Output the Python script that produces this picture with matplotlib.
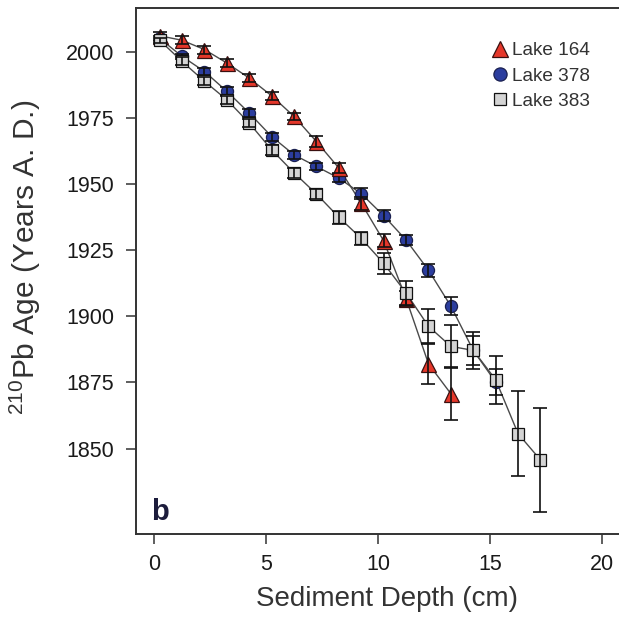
import matplotlib
matplotlib.use("Agg")
import matplotlib.pyplot as plt
from matplotlib.lines import Line2D

plt.rcParams['font.family'] = ['Liberation Sans', 'DejaVu Sans']
plt.rcParams['mathtext.fontset'] = 'custom'
plt.rcParams['mathtext.rm'] = 'Liberation Sans'

# ---- data ----
depth_164 = [0.25, 1.25, 2.25, 3.25, 4.25, 5.25, 6.25, 7.25, 8.25, 9.25, 10.25, 11.25, 12.25, 13.25]
age_164 = [2006, 2004.3, 2000.8, 1995.7, 1990, 1983.3, 1975.5, 1966, 1956, 1942.7, 1928.5, 1906.7, 1882, 1870.7]
err_164 = [1.5, 1.5, 1.5, 1.5, 1.5, 1.5, 1.5, 2, 2, 2.5, 2.5, 3, 7.5, 10]

depth_378 = [0.25, 1.25, 2.25, 3.25, 4.25, 5.25, 6.25, 7.25, 8.25, 9.25, 10.25, 11.25, 12.25, 13.25, 14.25, 15.25]
age_378 = [2005, 1998.2, 1992.5, 1985, 1976.8, 1967.9, 1961, 1956.6, 1952.2, 1946.3, 1938, 1928.8, 1917.4, 1903.8, 1887.1, 1875.1]
err_378 = [1, 1, 1.5, 1.5, 1.5, 1.5, 1.5, 1.5, 1.5, 2, 2, 2, 2.5, 3.5, 5.5, 5]

depth_383 = [0.25, 1.25, 2.25, 3.25, 4.25, 5.25, 6.25, 7.25, 8.25, 9.25, 10.25, 11.25, 12.25, 13.25, 14.25, 15.25, 16.25, 17.25]
age_383 = [2004.3, 1996.3, 1988.8, 1981.8, 1973, 1962.9, 1954.2, 1946.2, 1937.4, 1929.4, 1920, 1908.8, 1896.2, 1888.6, 1887.1, 1876, 1855.6, 1845.7]
err_383 = [1, 1.5, 1.5, 1.5, 1.5, 2, 2, 2, 2.5, 2.5, 4, 4.5, 6.5, 8, 7, 9, 16, 19.5]

labels = ['Lake 164', 'Lake 378', 'Lake 383']
xticks = [0, 5, 10, 15, 20]
yticks = [1850, 1875, 1900, 1925, 1950, 1975, 2000]

# ---- figure ----
W, H = 619, 617
fig = plt.figure(figsize=(W / 100, H / 100), dpi=100)
ax_left, ax_right, ax_top, ax_bot = 135.7, 624.5, 8, 534
ax = fig.add_axes([ax_left / W, 1 - ax_bot / H, (ax_right - ax_left) / W, (ax_bot - ax_top) / H])
ax.set_xlim(-0.82, 21.0)
ax.set_ylim(1817.7, 2016.5)

line_c = '#4a4a4a'
series = [
    (depth_378, age_378, err_378, 'o', '#2b3d9e', '#1a2050', 8.7, 3),
    (depth_164, age_164, err_164, '^', '#e5372a', '#3a1010', 10.8, 4),
    (depth_383, age_383, err_383, 's', '#d4d4d4', '#111111', 8.2, 5),
]
for d, a, e, m, fc, ec, ms, z in series:
    ax.plot(d, a, '-', color=line_c, lw=1.0, zorder=2)
for d, a, e, m, fc, ec, ms, z in series:
    ax.plot(d, a, linestyle='none', marker=m, markersize=ms, markerfacecolor=fc,
            markeredgecolor=ec, markeredgewidth=0.9, zorder=z)
for d, a, e, m, fc, ec, ms, z in series:
    ax.errorbar(d, a, yerr=e, fmt='none', ecolor='#111111', elinewidth=1.2,
                capsize=4.7, capthick=1.2, zorder=z + 0.5)

for s in ax.spines.values():
    s.set_color('#333333')
    s.set_linewidth(1.4)

ax.set_xticks(xticks)
ax.set_yticks(yticks)
ax.tick_params(direction='out', length=7.5, width=1.1, color='#333333',
               labelsize=15.5, labelcolor='#1a1a1a')
ax.tick_params(axis='x', pad=7)
ax.tick_params(axis='y', pad=8)

ax.set_xlabel('Sediment Depth (cm)', fontsize=20, color='#333333')
ax.xaxis.set_label_coords((386.5 - ax_left) / (ax_right - ax_left), (ax_bot - 586) / (ax_bot - ax_top))
ax.set_ylabel(r'$^{\mathrm{210}}$Pb Age (Years A. D.)', fontsize=21.5, color='#333333')
ax.yaxis.set_label_coords((43 - ax_left) / (ax_right - ax_left), (ax_bot - 257) / (ax_bot - ax_top))

ax.text((151 - ax_left) / (ax_right - ax_left), (ax_bot - 520) / (ax_bot - ax_top), 'b',
        transform=ax.transAxes, fontsize=21, fontweight='bold', color='#1c1c3c',
        ha='left', va='baseline')

handles = [
    Line2D([], [], linestyle='none', marker='^', markersize=12, markerfacecolor='#e5372a', markeredgecolor='#3a1010', markeredgewidth=0.9),
    Line2D([], [], linestyle='none', marker='o', markersize=9.5, markerfacecolor='#2b3d9e', markeredgecolor='#1a2050', markeredgewidth=0.9),
    Line2D([], [], linestyle='none', marker='s', markersize=8.5, markerfacecolor='#d4d4d4', markeredgecolor='#111111', markeredgewidth=0.9),
]
leg = fig.legend(handles, labels, loc='upper left', bbox_to_anchor=(490.5 / W, 1 - 42 / H),
                 frameon=False, fontsize=13.7, handlelength=1.0, handletextpad=0.15,
                 labelspacing=0.42, borderpad=0, borderaxespad=0, numpoints=1)
for t in leg.get_texts():
    t.set_color('#333333')

fig.savefig('out.png', dpi=100)
